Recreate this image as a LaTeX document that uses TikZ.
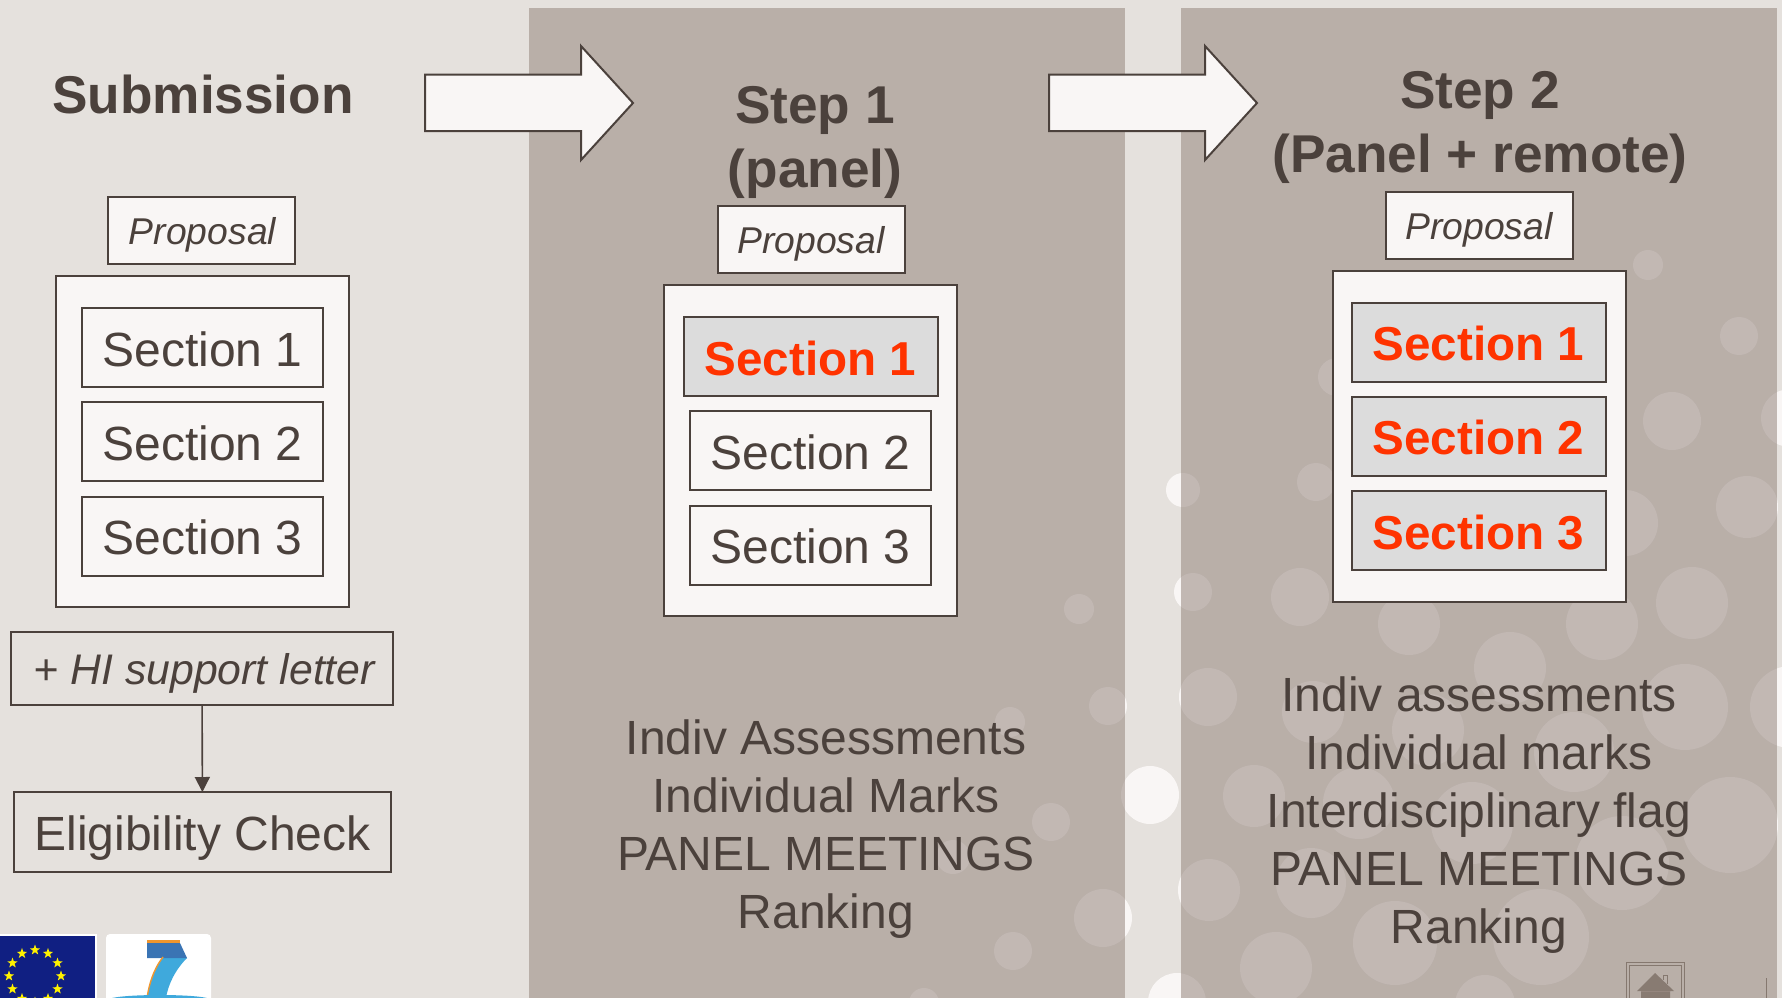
\documentclass[tikz,border=0pt]{standalone}
\usepackage{fontspec}
\setmainfont{Liberation Sans}
\usetikzlibrary{arrows.meta,shapes.geometric}
\definecolor{bgcol}{HTML}{E5E1DD}
\definecolor{panelcol}{HTML}{95867E}
\definecolor{bubblecol}{HTML}{F9F6F5}
\definecolor{inkcol}{HTML}{4B413C}
\definecolor{hotcol}{HTML}{FF3300}
\definecolor{greycol}{HTML}{DCDCDC}
\definecolor{flagcol}{HTML}{101F82}
\definecolor{iconcol}{HTML}{85786F}
\definecolor{sevenblue}{HTML}{3FA9DC}
\definecolor{sevendark}{HTML}{3A74B4}
\definecolor{sevenorange}{HTML}{F0962E}
\tikzset{
  outerbox/.style={draw=inkcol,line width=2pt,fill=bubblecol,inner sep=0pt,outer sep=0pt,minimum width=293pt,minimum height=331pt},
  propbox/.style={draw=inkcol,line width=2pt,fill=bubblecol,text=inkcol,inner sep=0pt,outer sep=0pt,minimum width=187pt,minimum height=67pt,text height=28.5pt,text depth=0pt,font=\fontsize{37.3}{44}\selectfont\itshape},
  sectbox/.style={draw=inkcol,line width=2pt,text=inkcol,inner sep=0pt,outer sep=0pt,minimum width=241pt,minimum height=79pt,text height=37pt,text depth=0pt,font=\fontsize{48}{56}\selectfont},
  hotbox/.style={sectbox,fill=greycol,text=hotcol,minimum width=254pt,font=\fontsize{47.6}{56}\selectfont\bfseries},
  headtxt/.style={text=inkcol,align=center,inner sep=0pt,font=\fontsize{53.2}{64}\selectfont\bfseries},
  bodytxt/.style={text=inkcol,align=center,inner sep=0pt,font=\fontsize{48}{58}\selectfont},
  blockarrow/.style={draw=inkcol,line width=2pt,fill=bubblecol,line join=miter},
  eustar/.style={star,star points=5,star point ratio=2.5,fill=yellow,inner sep=0pt,minimum size=11pt}
}
\begin{document}
\begin{tikzpicture}[x=1pt,y=-1pt]
\clip (0,0) rectangle (1782,998);
\fill[bgcol] (0,0) rectangle (1782,998);
% bubbles, seen through the panels
\foreach \bx/\by/\br in {1079/609/15,1108/706/19,1010/722/15,1150/795/29,1051/822/19,953/857/17,1103/918/29,1013/951/19,924/1003/15,1177/1002/29,
  1193/592/19,1183/490/17,1208/697/29,1300/597/29,1409/624/31,1510/668/36,1602/624/36,1692/603/36,1313/712/31,1428/730/36,1574/752/40,1685/707/43,1791/707/41,
  1209/890/31,1254/796/31,1359/803/36,1472/823/41,1622/863/47,1730/825/48,1311/883/35,1395/943/42,1541/937/48,1276/968/36,1485/1005/30,
  1648/265/15,1739/336/19,1672/421/29,1747/507/31,1790/418/29,1316/482/19,1337/377/19,1625/523/33}
  \fill[bubblecol] (\bx,\by) circle (\br pt);
% panels
\fill[panelcol,fill opacity=.55] (529,8) rectangle (1125,998);
\fill[panelcol,fill opacity=.55] (1181,8) rectangle (1777,998);
% block arrows
\draw[blockarrow] (425,74.5) -- (581,74.5) -- (581,46) -- (633,103) -- (581,160) -- (581,131) -- (425,131) -- cycle;
\draw[blockarrow] (1049,74.5) -- (1205,74.5) -- (1205,46) -- (1257,103) -- (1205,160) -- (1205,131) -- (1049,131) -- cycle;
% submission
\node[headtxt] (subhead) at (203,94) {Submission};
\node[propbox] (subprop) at (201.5,230) {\hspace{2pt}Proposal};
\node[outerbox] (subouter) at (202.5,441.5) {};
\node[sectbox,fill=bubblecol] (subone) at (202.5,347.5) {Section 1};
\node[sectbox,fill=bubblecol] (subtwo) at (202.5,441.5) {Section 2};
\node[sectbox,fill=bubblecol] (subthree) at (202.5,536) {Section 3};
\node[sectbox,minimum width=382pt,minimum height=73pt,text height=31pt,font=\fontsize{42.8}{50}\selectfont\itshape] (hiletter) at (202,668.5) {\hspace{4.5pt}+ HI support letter};
\node[sectbox,minimum width=377pt,minimum height=80pt,text height=36pt] (elig) at (202.5,832) {Eligibility Check};
\draw[draw=inkcol,line width=1.6pt,-{Triangle[length=15pt,width=15pt]}] (hiletter) -- (elig);
% step 1
\node[headtxt] (onehead) at (815,142.5) {Step 1\\(panel)};
\node[propbox] (oneprop) at (811,239.5) {Proposal};
\node[outerbox] (oneouter) at (810.5,450.5) {};
\node[hotbox] (oneone) at (810.5,356.5) {Section 1};
\node[sectbox,fill=bubblecol] (onetwo) at (810.5,450.5) {Section 2};
\node[sectbox,fill=bubblecol] (onethree) at (810.5,545) {Section 3};
\node[bodytxt] (onebody) at (826,829.5) {Indiv Assessments\\Individual Marks\\PANEL MEETINGS\\Ranking};
% step 2
\node[headtxt] (twohead) at (1480,127.5) {Step 2\\(Panel + remote)};
\node[propbox] (twoprop) at (1479,225) {Proposal};
\node[outerbox] (twoouter) at (1479,436.5) {};
\node[hotbox] (twoone) at (1478.5,342) {Section 1};
\node[hotbox] (twotwo) at (1478.5,436) {Section 2};
\node[hotbox] (twothree) at (1478.5,530.5) {Section 3};
\node[bodytxt] (twobody) at (1479,815.5) {Indiv assessments\\Individual marks\\Interdisciplinary flag\\PANEL MEETINGS\\Ranking};
% logos
\fill[white] (0,934) rectangle (97,998);
\fill[flagcol] (0,936) rectangle (95,998);
\foreach \ang in {0,30,...,330}
  \node[eustar] at ({35+26*cos(\ang)},{976+26*sin(\ang)}) {};
\fill[white,rounded corners=4pt] (106,934) rectangle (211,1010);
\fill[sevenblue] (163,957) .. controls (153,970) and (149,985) .. (147,998) -- (166,998) .. controls (168,985) and (175,970) .. (187,958) -- cycle;
\fill[sevendark] (147,943) -- (180,943) -- (187,958) -- (147,958) -- cycle;
\fill[sevenorange] (147,940) rectangle (180,943);
\draw[sevenorange,line width=1.4pt] (163,957) .. controls (153,970) and (149,985) .. (147,998);
\fill[sevenblue] (112,998) .. controls (130,994) and (190,994) .. (207,998) -- cycle;
% home button
\draw[iconcol,line width=1pt] (1626,1000) -- (1626,962) -- (1684,962) -- (1684,1000);
\draw[iconcol,line width=1pt] (1629,1000) -- (1629,965) -- (1681,965) -- (1681,1000);
\fill[iconcol!80!panelcol] (1655,973) -- (1674,991) -- (1670,991) -- (1670,1000) -- (1641,1000) -- (1641,991) -- (1637,991) -- cycle;
\draw[iconcol,line width=1pt] (1663,980) -- (1663,975) -- (1667,975) -- (1667,984);
\draw[panelcol,line width=1pt] (1641,991) -- (1670,991);
\draw[iconcol,line width=1pt] (1766,978) -- (1766,998);
\end{tikzpicture}
\end{document}
